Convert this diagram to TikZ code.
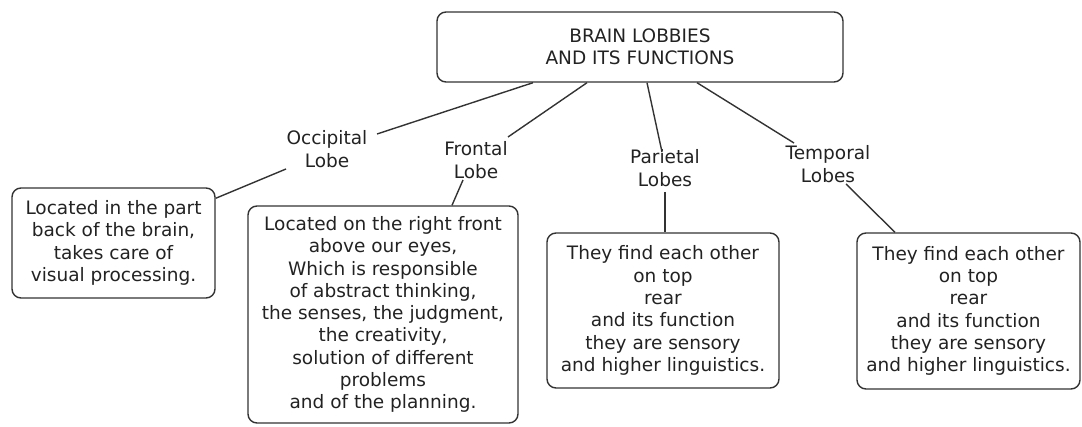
\documentclass[tikz,border=0pt]{standalone}
\usepackage{fontspec}
\setmainfont{DejaVu Sans}
\definecolor{linecol}{HTML}{333333}
\definecolor{textcol}{HTML}{222222}
\newcommand{\bodyfont}{\fontsize{18.5}{22.3}\selectfont}
\begin{document}
\begin{tikzpicture}[x=1pt,y=-1pt,
  box/.style={draw=linecol, line width=1.4pt, rounded corners=9pt, align=center,
    font=\bodyfont, text=textcol, inner sep=0pt},
  lbl/.style={align=center, font=\bodyfont, text=textcol, inner sep=0pt},
  conn/.style={draw=linecol, line width=1.4pt}]
\useasboundingbox (0,0) rectangle (1082,427);
% boxes
\node[box, minimum width=406pt, minimum height=70pt] (top) at (640,47)
  {BRAIN LOBBIES\\AND ITS FUNCTIONS};
\node[box, minimum width=203pt, minimum height=110pt] (occbox) at (113.5,243)
  {Located in the part\\back of the brain,\\takes care of\\visual processing.};
\node[box, minimum width=270pt, minimum height=217pt] (frontbox) at (383,314.5)
  {Located on the right front\\above our eyes,\\Which is responsible\\of abstract thinking,\\the senses, the judgment,\\the creativity,\\solution of different\\problems\\and of the planning.};
\node[box, minimum width=232pt, minimum height=155pt] (parbox) at (663,310.5)
  {They find each other\\on top\\rear\\and its function\\they are sensory\\and higher linguistics.};
\node[box, minimum width=223pt, minimum height=156pt] (tempbox) at (968.5,311)
  {They find each other\\on top\\rear\\and its function\\they are sensory\\and higher linguistics.};
% labels
\node[lbl] (occ) at (327,149) {Occipital\\Lobe};
\node[lbl] (front) at (476,160) {Frontal\\Lobe};
\node[lbl] (par) at (665,168) {Parietal\\Lobes};
\node[lbl] (temp) at (828,164) {Temporal\\Lobes};
% connectors
\draw[conn] ([xshift=-107pt]top.south) -- ([shift={(50,-15)}]occ.center);
\draw[conn] ([shift={(-41,20)}]occ.center) -- ([yshift=-11pt]occbox.north east);
\draw[conn] ([xshift=-53pt]top.south) -- ([shift={(32,-23)}]front.center);
\draw[conn] ([shift={(-13,20)}]front.center) -- ([xshift=69pt]frontbox.north);
\draw[conn] ([xshift=7pt]top.south) -- ([shift={(-3,-16)}]par.center);
\draw[conn] ([shift={(0,24)}]par.center) -- ([xshift=2pt]parbox.north);
\draw[conn] ([xshift=57pt]top.south) -- ([shift={(-34,-21)}]temp.center);
\draw[conn] ([shift={(18,20)}]temp.center) -- ([xshift=-73.5pt]tempbox.north);
\end{tikzpicture}
\end{document}
